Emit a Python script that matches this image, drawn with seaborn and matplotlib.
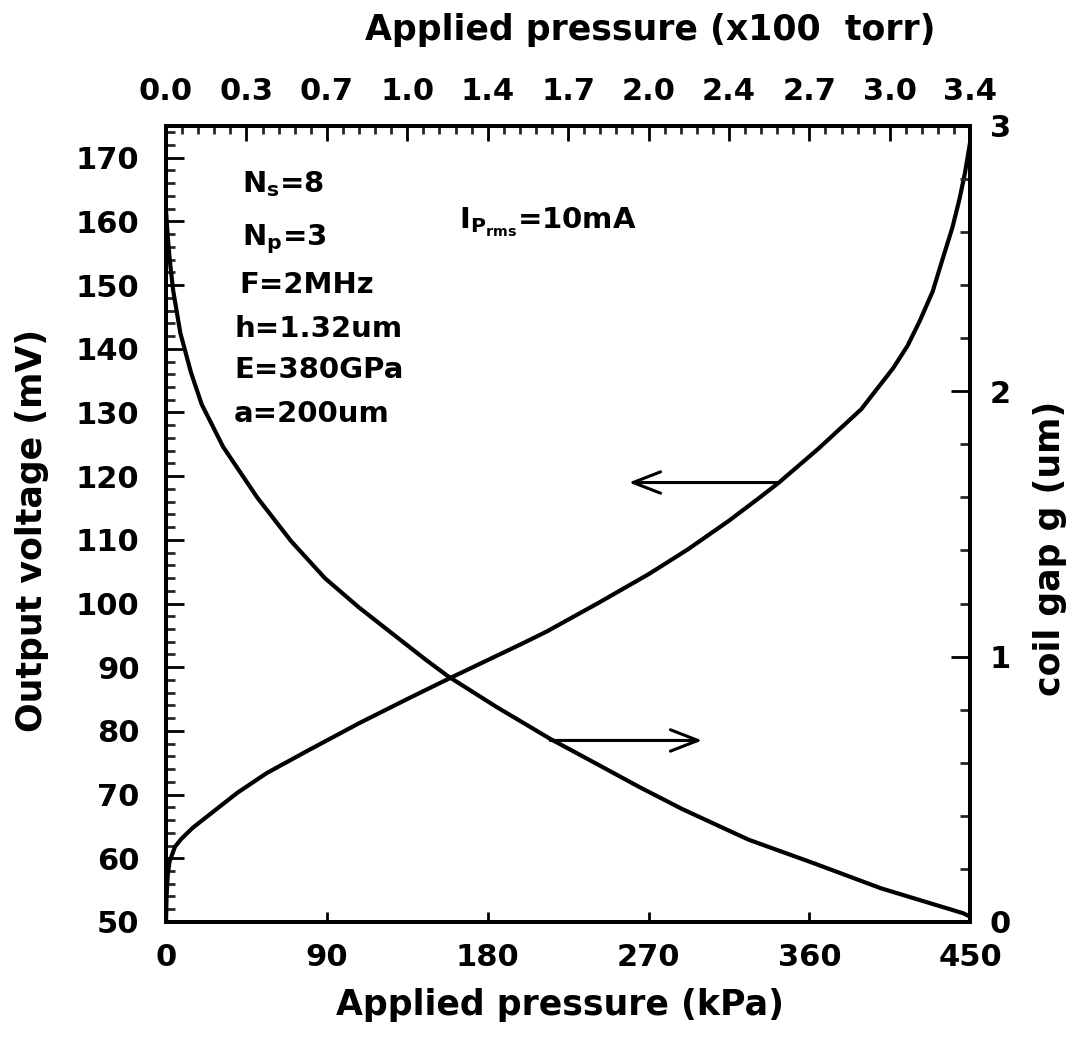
import matplotlib
matplotlib.use("Agg")
import matplotlib.pyplot as plt
from matplotlib.ticker import MultipleLocator
import seaborn as sns

# Output voltage vs applied pressure (left axis)
pressure_v = [0, 0.3, 1, 2, 5, 8.4, 15, 25, 40, 56.5, 80, 108, 135, 157.5,
              200, 213, 242, 270, 292, 315, 332, 343, 365, 389, 407, 415,
              422, 429, 435, 440, 444, 447, 450]
voltage_mv = [50, 54.0, 57.5, 59.5, 61.8, 63.0, 64.8, 67.0, 70.3, 73.4, 77.0,
              81.2, 85.0, 88.1, 93.8, 95.6, 100.1, 104.6, 108.5, 113.0,
              116.6, 119.0, 124.3, 130.5, 137.0, 140.5, 144.5, 149.0, 154.5,
              159.0, 163.5, 167.5, 172.5]

# Coil gap vs applied pressure (right axis)
pressure_g = [0, 1, 2, 4, 8, 14, 20, 32, 51, 70, 89, 108, 126, 145, 158,
              185, 215, 242, 265, 289, 326, 363, 400, 446, 450]
gap_um = [2.68, 2.58, 2.50, 2.38, 2.22, 2.07, 1.95, 1.79, 1.60, 1.435, 1.295,
          1.185, 1.09, 0.99, 0.925, 0.81, 0.69, 0.592, 0.508, 0.425, 0.31,
          0.22, 0.127, 0.033, 0.02]

bottom_ticks = [0, 90, 180, 270, 360, 450]
top_ticks = [0, 45, 90, 135, 180, 225, 270, 315, 360, 405, 450]
top_labels = ["0.0", "0.3", "0.7", "1.0", "1.4", "1.7", "2.0", "2.4", "2.7",
              "3.0", "3.4"]
left_ticks = [50, 60, 70, 80, 90, 100, 110, 120, 130, 140, 150, 160, 170]
right_ticks = [0, 1, 2, 3]

param_texts = ["N$_{s}$=8", "N$_{p}$=3", "F=2MHz", "h=1.32um", "E=380GPa",
               "a=200um"]
current_text = "I$_{P_{rms}}$=10mA"

sns.set_theme(style="ticks")
plt.rcParams["font.family"] = ["DejaVu Sans"]
plt.rcParams["font.weight"] = "bold"
plt.rcParams["mathtext.default"] = "bf"

fig = plt.figure(figsize=(10.78, 10.42), dpi=100)
ax = fig.add_axes([0.154, 0.1152, 0.746, 0.764])

line_kw = dict(color="black", linewidth=3.0, estimator=None, sort=False,
               legend=False)
sns.lineplot(x=pressure_v, y=voltage_mv, ax=ax, **line_kw)
ax.set_xlim(0, 450)
ax.set_ylim(50, 175)

ax2 = ax.twinx()
sns.lineplot(x=pressure_g, y=gap_um, ax=ax2, **line_kw)
ax2.set_ylim(0, 3)

ax3 = ax.twiny()
ax3.set_xlim(0, 450)

for a in (ax, ax2, ax3):
    for s in a.spines.values():
        s.set_linewidth(2.6)
        s.set_color("black")
    a.set_xlabel("")
    a.set_ylabel("")

TICK_FS = 22

# bottom axis
ax.set_xticks(bottom_ticks)
ax.set_xticklabels([str(t) for t in bottom_ticks])
ax.tick_params(axis="x", which="both", direction="in", bottom=True, top=False,
               length=7, width=2, pad=15, labelsize=TICK_FS, colors="black")
# left axis
ax.set_yticks(left_ticks)
ax.set_yticklabels([str(t) for t in left_ticks])
ax.yaxis.set_minor_locator(MultipleLocator(2))
ax.tick_params(axis="y", which="major", direction="in", left=True, right=False,
               length=13, width=2, pad=19, labelsize=TICK_FS, colors="black")
ax.tick_params(axis="y", which="minor", direction="in", left=True, right=False,
               length=6.5, width=2)
# right axis
ax2.set_yticks(right_ticks)
ax2.set_yticklabels([str(t) for t in right_ticks])
ax2.yaxis.set_minor_locator(MultipleLocator(0.2))
ax2.tick_params(axis="y", which="major", direction="in", right=True, left=False,
                length=14, width=2, pad=14, labelsize=TICK_FS, colors="black")
ax2.tick_params(axis="y", which="minor", direction="in", right=True,
                left=False, length=7, width=2)
# top axis (pressure in torr)
ax3.set_xticks(top_ticks)
ax3.set_xticklabels(top_labels)
ax3.xaxis.set_minor_locator(MultipleLocator(9))
ax3.tick_params(axis="x", which="major", direction="in", top=True,
                bottom=False, length=11, width=2, pad=14, labelsize=TICK_FS,
                colors="black")
ax3.tick_params(axis="x", which="minor", direction="in", top=True,
                bottom=False, length=5.5, width=2)

# axis titles
lab_kw = dict(fontsize=25, fontweight="bold", color="black", ha="center",
              va="center")
fig.text(560 / 1078, 1 - 1005 / 1042, "Applied pressure (kPa)", **lab_kw)
fig.text(650 / 1078, 1 - 30 / 1042, "Applied pressure (x100  torr)", **lab_kw)
fig.text(32 / 1078, 1 - 530 / 1042, "Output voltage (mV)", rotation=90,
         **lab_kw)
fig.text(1050 / 1078, 1 - 548 / 1042, "coil gap g (um)", rotation=90,
         **lab_kw)

# device parameters
param_x = [42.6, 42.6, 40.9, 38.1, 38.1, 38.1]
param_y = [164.6, 156.3, 148.7, 141.8, 135.4, 128.5]
for t, x, y in zip(param_texts, param_x, param_y):
    ax.text(x, y, t, fontsize=21, fontweight="bold", color="black",
            ha="left", va="baseline")
ax.text(164, 158.9, current_text, fontsize=21, fontweight="bold",
        color="black", ha="left", va="baseline")

# arrows pointing each curve to its axis
arrow_kw = dict(arrowstyle="->,head_length=0.9,head_width=0.35",
                lw=2.2, color="black", shrinkA=0, shrinkB=0,
                mutation_scale=22)
ax.annotate("", xy=(259, 119.0), xytext=(343, 119.0), arrowprops=arrow_kw)
ax.annotate("", xy=(300, 78.5), xytext=(215, 78.5), arrowprops=arrow_kw)

fig.savefig("out.png", dpi=100, facecolor="white")
